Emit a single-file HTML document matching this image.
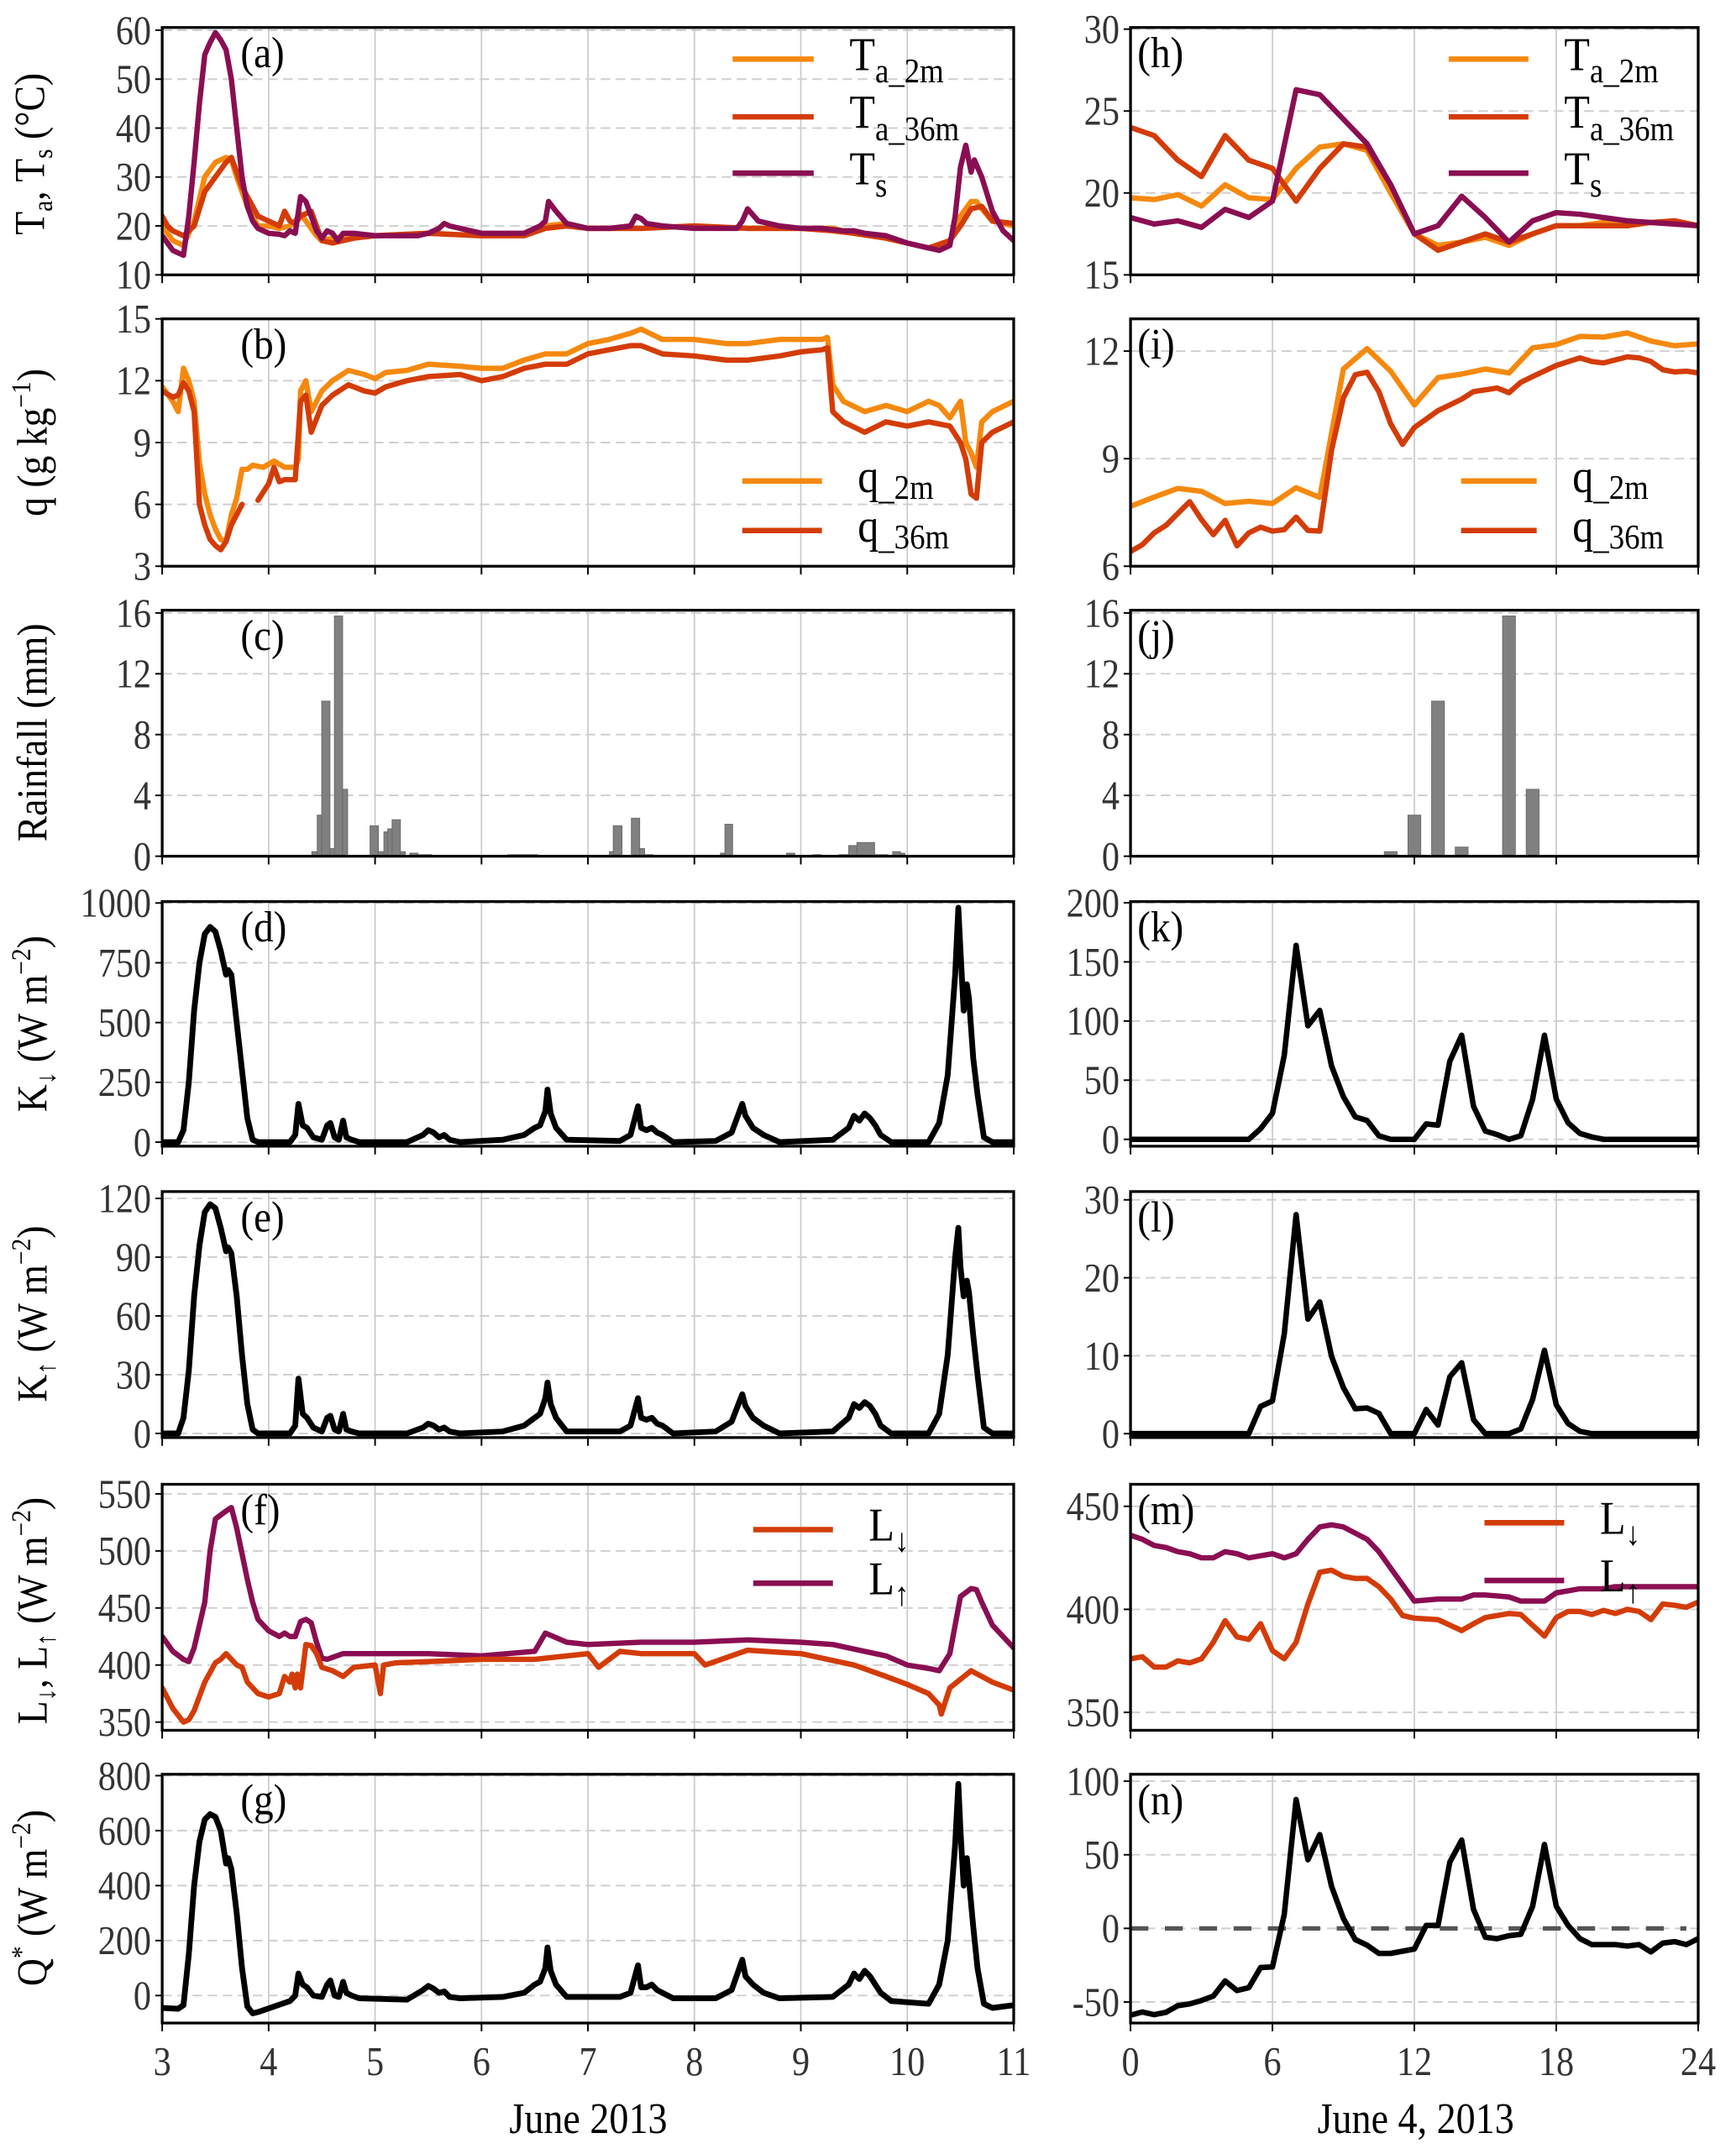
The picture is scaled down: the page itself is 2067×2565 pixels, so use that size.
<!DOCTYPE html>
<html><head><meta charset="utf-8">
<style>
html,body{margin:0;padding:0;background:#fff;}
svg{display:block;}
text{font-family:"Liberation Serif","DejaVu Serif",serif;}
</style></head>
<body>
<svg id="fig" xmlns="http://www.w3.org/2000/svg" width="2067" height="2565" viewBox="0 0 1263 1567.3"></svg>
<script>
// ---------- DATA ----------
const leftXTicks=[3,4,5,6,7,8,9,10,11];
const rightXTicks=[0,6,12,18,24];
const aTicks=[10,20,30,40,50,60];
const bTicks=[3,6,9,12,15];
const cTicks=[0,4,8,12,16];
const dTicks=[0,250,500,750,1000];
const eTicks=[0,30,60,90,120];
const fTicks=[350,400,450,500,550];
const gTicks=[0,200,400,600,800];
const hTicks=[15,20,25,30];
const iTicks=[6,9,12];
const kTicks=[0,50,100,150,200];
const lTicks=[0,10,20,30];
const mTicks=[350,400,450];
const nTicks=[-50,0,50,100];

// (a)
const aTsT=[3.0,3.05,3.1,3.15,3.2,3.25,3.3,3.35,3.4,3.45,3.5,3.55,3.6,3.65,3.7,3.75,3.8,3.85,3.9,4.0,4.1,4.15,4.2,4.25,4.3,4.35,4.4,4.45,4.5,4.55,4.6,4.65,4.7,4.8,5.0,5.2,5.4,5.5,5.6,5.65,5.7,5.8,6.0,6.2,6.4,6.5,6.55,6.6,6.63,6.7,6.8,7.0,7.2,7.4,7.45,7.5,7.55,7.7,8.0,8.2,8.4,8.45,8.5,8.6,8.8,9.0,9.2,9.4,9.5,9.6,9.8,10.0,10.2,10.3,10.4,10.45,10.5,10.55,10.6,10.63,10.7,10.8,10.9,11.0];
const aTs=[18,16.5,15,14.5,14,22,33,45,55,57.5,59.5,58,56,50,40,30,24,21,19.5,18.5,18.3,18,19,18.5,26,25,22,19,17.5,19,18.5,17,18.5,18.5,18,18,18,18.5,19.5,20.5,20,19.5,18.5,18.5,18.5,19.5,20,21,25,23,20.5,19.5,19.5,20,22,21.5,20.5,20,19.5,19.5,19.5,21,23.5,21,20,19.5,19.5,19,19,18.5,18,16.5,15.5,15,16,22,32,36.5,31,33.5,30,23,19,17];
const aTa2T=[3,3.1,3.2,3.3,3.4,3.5,3.6,3.65,3.7,3.8,3.9,4.0,4.1,4.2,4.25,4.3,4.35,4.45,4.5,4.6,4.8,5,5.5,6,6.4,6.6,6.8,7,7.5,8,8.5,9,9.3,9.5,9.8,10,10.2,10.3,10.4,10.5,10.6,10.65,10.7,10.8,11];
const aTa2=[20,17,16,21,30,33,34,33.5,30,24,20,20,19.5,20,21,22.5,21,18,17,17.5,18,18,18.5,18,18.5,20,20.5,19.5,19.5,20,19.5,19.5,19.5,18.5,17.5,16.5,15.5,15.5,17,22,25,25,23.5,21,20];
const aTa36T=[3,3.05,3.1,3.2,3.3,3.4,3.5,3.6,3.65,3.7,3.75,3.8,3.9,4.0,4.1,4.15,4.2,4.25,4.3,4.4,4.45,4.5,4.6,4.8,5,5.5,6,6.4,6.6,6.8,7,7.5,8,8.5,9,9.3,9.5,9.8,10,10.2,10.4,10.5,10.6,10.7,10.8,11];
const aTa36=[22,20,19,18,20,27,30,33,34,31,28,26,22,21,20,23,21,20.5,22,23,20,17,16.5,17.5,18,18.5,18,18,19.5,20,19.5,19.5,20,19.5,19.5,19,18.5,17.5,16.5,15.5,17,20,23.5,24,21,20.5];
// (b)
const bQ2T=[3,3.1,3.15,3.2,3.25,3.3,3.35,3.4,3.45,3.5,3.55,3.6,3.65,3.7,3.75,3.8,3.85,3.95,4.05,4.15,4.25,4.28,4.3,4.35,4.4,4.5,4.6,4.75,4.9,5,5.1,5.3,5.5,5.8,6,6.2,6.4,6.6,6.8,7,7.2,7.4,7.5,7.7,8,8.3,8.5,8.8,9,9.2,9.25,9.3,9.4,9.6,9.8,10,10.2,10.3,10.4,10.5,10.55,10.6,10.65,10.7,10.8,11];
const bQ2=[11.7,11,10.5,12.6,12,11,8,6.5,5.5,4.8,4.3,4.2,5.5,6.3,7.7,7.7,7.9,7.8,8.1,7.8,7.8,8.2,11.5,12,10.5,11.5,12,12.5,12.3,12.1,12.4,12.5,12.8,12.7,12.6,12.6,13,13.3,13.3,13.8,14,14.3,14.5,14,14,13.8,13.8,14,14,14,14.1,11.8,11,10.5,10.8,10.5,11,10.8,10.2,11,9,8.5,7.8,10,10.5,11];
const bQ36T=[3,3.1,3.15,3.2,3.25,3.3,3.35,3.4,3.45,3.5,3.55,3.6,3.65,3.7,3.75,3.83,3.9,4.0,4.05,4.1,4.15,4.25,4.3,4.35,4.4,4.5,4.6,4.75,4.9,5,5.1,5.3,5.5,5.8,6,6.2,6.4,6.6,6.8,7,7.2,7.4,7.5,7.7,8,8.3,8.5,8.8,9,9.2,9.25,9.3,9.4,9.6,9.8,10,10.2,10.4,10.5,10.55,10.6,10.65,10.7,10.8,11];
const bQ36=[11.5,11.2,11.3,11.9,11.5,10.5,6,5,4.3,4,3.8,4.2,5.0,5.5,6,null,6.2,7,7.8,7.1,7.2,7.2,11,11.3,9.5,10.8,11.3,11.8,11.5,11.4,11.7,12,12.2,12.3,12.0,12.2,12.6,12.8,12.8,13.3,13.5,13.7,13.7,13.3,13.2,13,13,13.2,13.4,13.5,13.6,10.5,10,9.5,10,9.8,10,9.8,9,8.2,6.5,6.3,9,9.5,10];
// (c) rainfall bins
const cRainStart=[4.406,4.457,4.499,4.576,4.618,4.695,4.953,5.031,5.083,5.119,5.16,5.238,5.326,5.403,6.245,7.202,7.238,7.408,7.486,7.532,8.245,8.287,8.866,9.114,9.357,9.45,9.527,9.693,9.863,9.935];
const cRainEnd=[4.457,4.499,4.576,4.618,4.695,4.742,5.031,5.083,5.119,5.16,5.238,5.284,5.403,5.532,6.525,7.238,7.32,7.486,7.532,7.61,8.287,8.359,8.943,9.191,9.45,9.527,9.693,9.822,9.935,9.977];
const cRain=[0.3,2.7,10.2,0.5,15.8,4.4,2.0,0.3,1.6,1.8,2.4,0.3,0.2,0.1,0.1,0.3,2.0,2.5,0.5,0.1,0.2,2.1,0.2,0.1,0.1,0.7,0.9,0.1,0.3,0.2];
// (d),(e),(g) shared times
const kT=[3,3.15,3.2,3.25,3.3,3.35,3.4,3.45,3.5,3.55,3.6,3.62,3.65,3.7,3.75,3.8,3.85,3.9,4.2,4.25,4.28,4.32,4.36,4.42,4.5,4.55,4.58,4.62,4.66,4.7,4.73,4.78,4.85,5.3,5.45,5.5,5.55,5.6,5.65,5.7,5.8,6.2,6.4,6.5,6.55,6.6,6.62,6.65,6.7,6.8,7.3,7.4,7.47,7.5,7.55,7.6,7.65,7.7,7.8,8.2,8.35,8.45,8.48,8.55,8.65,8.8,9.3,9.45,9.5,9.55,9.6,9.65,9.7,9.75,9.85,10.2,10.3,10.38,10.45,10.48,10.5,10.53,10.56,10.58,10.62,10.66,10.72,10.8,11];
const dKdown=[0,0,50,250,550,750,870,900,880,800,700,720,700,500,300,100,10,0,0,30,160,70,60,20,10,70,80,20,10,90,20,10,0,0,30,50,40,20,30,10,0,10,30,60,70,130,220,120,60,10,5,30,150,60,50,60,40,30,0,5,40,160,110,60,30,0,10,60,110,90,120,100,70,30,0,0,80,280,700,980,800,550,660,600,350,200,20,0,0];
const eKup=[0,0,8,32,70,96,113,117,115,105,93,95,92,70,40,15,2,0,0,4,28,10,8,3,1,8,9,2,1,10,2,1,0,0,3,5,4,2,3,1,0,1,4,8,10,18,26,15,8,1,1,4,18,8,7,8,5,4,0,1,6,20,14,8,4,0,1,8,15,13,16,14,10,4,0,0,10,40,90,105,85,70,78,72,50,30,3,0,0];
const gQstar=[-45,-48,-35,150,400,560,640,660,650,600,480,500,460,300,100,-40,-65,-60,-20,0,80,40,30,0,-5,40,55,0,-5,50,10,0,-10,-15,20,35,25,10,15,-5,-10,-5,10,40,50,100,175,90,40,-5,-5,10,110,30,30,40,20,10,-10,-10,20,130,70,40,10,-10,-5,40,80,60,90,70,40,10,-20,-30,40,200,550,770,600,400,500,420,250,100,-30,-45,-35];
// (f)
const fLupT=[3,3.1,3.2,3.25,3.3,3.4,3.45,3.5,3.6,3.65,3.7,3.8,3.85,3.9,4.0,4.1,4.15,4.2,4.25,4.3,4.35,4.4,4.45,4.5,4.55,4.7,5,5.5,6,6.5,6.6,6.8,7,7.5,8,8.5,9,9.3,9.5,9.8,10,10.2,10.3,10.4,10.5,10.6,10.65,10.7,10.8,11];
const fLup=[425,412,405,403,415,455,500,528,535,538,520,475,455,440,430,425,428,425,425,438,440,437,420,406,405,410,410,410,408,412,428,420,418,420,420,422,420,418,414,408,400,397,395,410,460,467,466,455,435,415];
const fLdnT=[3,3.1,3.2,3.25,3.3,3.4,3.5,3.55,3.6,3.7,3.75,3.8,3.9,4.0,4.1,4.15,4.2,4.22,4.25,4.27,4.3,4.35,4.4,4.45,4.5,4.6,4.7,4.8,5.0,5.05,5.08,5.2,5.5,6,6.5,7,7.1,7.3,7.5,8,8.1,8.5,9,9.5,9.8,10,10.2,10.3,10.32,10.4,10.6,10.8,11];
const fLdn=[380,362,350,352,360,385,402,405,410,400,398,385,375,372,375,390,385,392,380,392,380,418,417,410,398,395,390,398,400,375,400,402,403,405,405,410,398,412,410,410,400,413,410,400,390,383,375,365,357,380,395,385,378];
// right panels
const hT=[0,1,2,3,4,5,6,7,8,9,10,11,12,13,14,15,16,17,18,19,20,21,22,23,24];
const hTa2=[19.7,19.6,19.9,19.2,20.5,19.7,19.6,21.5,22.8,23,22.6,20,17.5,16.8,17,17.3,16.8,17.5,18,18,18.2,18.2,18.2,18.1,18];
const hTa36=[24,23.5,22,21,23.5,22,21.5,19.5,21.5,23,22.8,20.5,17.5,16.5,17,17.5,17,17.5,18,18,18,18,18.2,18.3,18];
const hTs=[18.5,18.1,18.3,17.9,19,18.5,19.5,26.3,26,24.5,23,20.5,17.5,18,19.8,18.5,17,18.3,18.8,18.7,18.5,18.3,18.2,18.1,18];
const iQ2T=[0,1,2,3,4,5,6,7,8,9,10,11,12,13,14,15,16,17,18,19,20,21,22,23,24];
const iQ2=[7.67,7.93,8.17,8.09,7.75,7.81,7.75,8.19,7.92,11.5,12.07,11.44,10.5,11.26,11.36,11.5,11.39,12.09,12.18,12.41,12.39,12.51,12.28,12.15,12.2];
const iQ36T=[0,0.5,1,1.5,2.5,3,3.5,4,4.5,5,5.5,6,6.5,7,7.5,8,8.5,9,9.5,10,10.5,11,11.5,12,13,14,14.5,15.5,16,16.5,17,18,19,19.5,20,21,21.5,22,22.5,23,23.5,24];
const iQ36=[6.41,6.6,6.93,7.14,7.8,7.3,6.88,7.28,6.57,6.93,7.09,6.98,7.02,7.37,7.0,6.98,9.24,10.7,11.34,11.41,10.87,9.97,9.4,9.87,10.34,10.66,10.87,10.97,10.84,11.13,11.29,11.6,11.81,11.71,11.67,11.84,11.81,11.71,11.48,11.42,11.44,11.39];
const jRainHour=[11,12,13,14,16,17];
const jRain=[0.3,2.7,10.2,0.6,15.8,4.4];
const kHT=[0,5,5.5,6,6.5,7,7.5,8,8.5,9,9.5,10,10.5,11,12,12.5,13,13.5,14,14.5,15,15.5,16,16.5,17,17.5,18,18.5,19,19.5,20,24];
const kKdown=[0,0,9,22,71,164,96,109,62,36,19,16,3,0,0,13,12,66,88,28,7,4,0,3,34,88,34,14,5,2,0,0];
const lHT=[0,5,5.5,6,6.5,7,7.5,8,8.5,9,9.5,10,10.5,11,12,12.5,13,13.5,14,14.5,15,16,16.5,17,17.5,18,18.5,19,19.5,24];
const lKup=[0,0,3.5,4.2,12.8,28.1,14.7,16.9,9.9,5.9,3.2,3.3,2.6,0,0,3.1,1.1,7.3,9.1,1.8,0,0,0.6,4.4,10.7,3.7,1.3,0.3,0,0];
const mT=[0,0.5,1,1.5,2,2.5,3,3.5,4,4.5,5,5.5,6,6.5,7,7.5,8,8.5,9,9.5,10,10.5,11,11.5,12,13,14,14.5,15,16,16.5,17.5,18,18.5,19,19.5,20,20.5,21,21.5,22,22.5,23,23.5,24];
const mLdn=[376,377,372,372,375,374,376,384,394.5,386.6,385.4,393,380,376,384,402.6,418,419,416,415,415,411,405,397,395.7,395,389.7,393,396,398,397.5,387,396,399,399,397.5,399.5,398,400,399,395,402.6,402,401,403.5];
const mLup=[436,434,431,430,428,427,425,425,428,427,425,426,427,425,427,434,440,441,440,437,434,428,420,412,404,405,405,407,407,406,404,404,408,409,410,410,410,411,411,411,411,411,411,411,411];
const nT=[0,0.5,1,1.5,2,2.5,3,3.5,4,4.5,5,5.5,6,6.5,7,7.5,8,8.5,9,9.5,10,10.5,11,11.5,12,12.5,13,13.5,14,14.5,15,15.5,16,16.5,17,17.5,18,18.5,19,19.5,20,20.5,21,21.5,22,22.5,23,23.5,24];
const nQstar=[-59,-56.8,-58.6,-57,-52.5,-51.3,-49,-46,-35.7,-42.2,-40.3,-26.6,-26.2,9.5,87.5,46.6,63.7,28.5,6.7,-7.6,-11.4,-17,-17,-15.5,-14,2,2,45,60,13,-6,-7,-5,-4,15,57,15,2,-7,-11,-11,-11,-12,-11,-16,-10,-9,-11,-7];

// ---------- DRAWING ----------
const NS='http://www.w3.org/2000/svg';
const svg=document.getElementById('fig');
const C_OR='#f5890f', C_RD='#d33c08', C_PU='#8a0e52';
const LW=3.9;
function el(tag,attrs,parent){const e=document.createElementNS(NS,tag);for(const k in attrs)e.setAttribute(k,attrs[k]);(parent||svg).appendChild(e);return e;}

const L={x0:118,x1:737.5,xmin:3,xmax:11};
const R={x0:822.5,x1:1235.5,xmin:0,xmax:24};
const rows=[[20,200],[232,412],[444,623],[656,834],[867,1046],[1080,1259],[1291,1472]];

function makePanel(id,side,row,ymin,ymax,yticks,xticks,showX){
  const s=side==='L'?L:R;
  const p={id:id,x0:s.x0,x1:s.x1,xmin:s.xmin,xmax:s.xmax,top:rows[row][0],bot:rows[row][1],ymin:ymin,ymax:ymax};
  p.sx=v=>p.x0+(v-p.xmin)/(p.xmax-p.xmin)*(p.x1-p.x0);
  p.sy=v=>p.bot-(v-p.ymin)/(p.ymax-p.ymin)*(p.bot-p.top);
  const g=el('g',{});
  
  
  p.g=g;
  const cp=el('clipPath',{id:'clip-'+id},g);
  el('rect',{x:p.x0,y:p.top,width:p.x1-p.x0,height:p.bot-p.top},cp);
  xticks.forEach(t=>{
    if(t===p.xmin||t===p.xmax)return;
    const l=el('line',{x1:p.sx(t),x2:p.sx(t),y1:p.top,y2:p.bot,stroke:'#c8c8c8','stroke-width':1},g);
    
    
  });
  yticks.forEach(t=>{
    const y=p.sy(t);
    const l=el('line',{x1:p.x0,x2:p.x1,y1:y,y2:y,stroke:'#cfcfcf','stroke-width':1.2,'stroke-dasharray':'7,4'},g);
    
    
    const tk=el('line',{x1:p.x0-5,x2:p.x0,y1:y,y2:y,stroke:'#000','stroke-width':1.2},g);
    
    
    const tx=el('text',{x:0,y:0,'text-anchor':'end','font-size':30,fill:'#333',transform:'translate('+(p.x0-8)+','+(y+10)+') scale(0.86,1)'},g);
    tx.textContent=String(t);
    
    
  });
  xticks.forEach(t=>{
    const x=p.sx(t);
    const tk=el('line',{x1:x,x2:x,y1:p.bot,y2:p.bot+6,stroke:'#000','stroke-width':1.2},g);
    
    
    if(showX){
      const tx=el('text',{x:0,y:0,'text-anchor':'middle','font-size':30,fill:'#333',transform:'translate('+x+','+(p.bot+38)+') scale(0.86,1)'},g);
      tx.textContent=String(t);
      
      
    }
  });
  p.data=el('g',{'clip-path':'url(#clip-'+id+')'},g);
  return p;
}
function finishPanel(p,letter){
  const r=el('rect',{x:p.x0,y:p.top,width:p.x1-p.x0,height:p.bot-p.top,fill:'none',stroke:'#000','stroke-width':2},p.g);
  
  
  const lx=p.id<'h'?p.x0+57:p.x0+5;
  const t=el('text',{x:0,y:0,'font-size':32,fill:'#000',transform:'translate('+lx+','+(p.top+29)+') scale(0.9,1)'},p.g);
  t.textContent='('+letter+')';
  
  
}
function drawLine(p,ts,vs,color,w,name){
  let d='',pen=false;
  const n=Math.min(ts.length,vs.length);
  for(let i=0;i<n;i++){
    if(vs[i]===null){pen=false;continue;}
    d+=(pen?'L':'M')+p.sx(ts[i]).toFixed(2)+','+p.sy(vs[i]).toFixed(2);
    pen=true;
  }
  const path=el('path',{d:d,fill:'none',stroke:color,'stroke-width':w,'stroke-linejoin':'round','stroke-linecap':'round'},p.data);
  
  
}
function drawBars(p,st,en,vs,name){
  const n=Math.min(st.length,en.length,vs.length);
  for(let i=0;i<n;i++){
    const x=p.sx(st[i]),x2=p.sx(en[i]),y=p.sy(vs[i]);
    const r=el('rect',{x:x,y:y,width:x2-x,height:p.sy(0)-y,fill:'#808080',stroke:'#6a6a6a','stroke-width':0.6},p.data);
    
    
  }
}
function legendEntry(p,x1,x2,y,color,main,sub,subSize,subDy){
  const l=el('line',{x1:x1,x2:x2,y1:y,y2:y,stroke:color,'stroke-width':4},p.g);
  
  
  const t=el('text',{x:0,y:0,'font-size':34,fill:'#000',transform:'translate('+(x2+26)+','+(y+8)+') scale(0.9,1)'},p.g);
  
  
  const a=el('tspan',{},t);a.textContent=main;
  const b=el('tspan',{'font-size':subSize,dy:subDy},t);b.textContent=sub;
}
function ylabel(cx,cy,parts){
  const t=el('text',{x:0,y:0,'text-anchor':'middle','font-size':31,fill:'#000',transform:'translate('+cx+','+cy+') rotate(-90) scale(0.9,1)'});
  
  
  parts.forEach(pt=>{const s=el('tspan',pt[1]?{'font-size':pt[1],dy:pt[2]}:{},t);s.textContent=pt[0];});
}

let p=makePanel('a','L',0,10,60.56,aTicks,leftXTicks,false);
drawLine(p,aTa2T,aTa2,C_OR,LW,'ta-2m-line');
drawLine(p,aTa36T,aTa36,C_RD,LW,'ta-36m-line');
drawLine(p,aTsT,aTs,C_PU,LW,'ts-line');
finishPanel(p,'a');
legendEntry(p,533,592,43,C_OR,'T','a_2m',25,9);
legendEntry(p,533,592,85,C_RD,'T','a_36m',25,9);
legendEntry(p,533,592,126,C_PU,'T','s',25,9);
p=makePanel('b','L',1,3,15,bTicks,leftXTicks,false);
drawLine(p,bQ2T,bQ2,C_OR,LW,'q-2m-line');
drawLine(p,bQ36T,bQ36,C_RD,LW,'q-36m-line');
finishPanel(p,'b');
legendEntry(p,540,598,350,C_OR,'q','_2m',25,5);
legendEntry(p,540,598,386,C_RD,'q','_36m',25,5);
p=makePanel('c','L',2,0,16.18,cTicks,leftXTicks,false);
drawBars(p,cRainStart,cRainEnd,cRain,'rain-bar');
finishPanel(p,'c');
p=makePanel('d','L',3,-17,1006,dTicks,leftXTicks,false);
drawLine(p,kT,dKdown,'#000',4.2,'k-down-line');
finishPanel(p,'d');
p=makePanel('e','L',4,-2.1,123.5,eTicks,leftXTicks,false);
drawLine(p,kT,eKup,'#000',4.2,'k-up-line');
finishPanel(p,'e');
p=makePanel('f','L',5,342.8,558.4,fTicks,leftXTicks,false);
drawLine(p,fLupT,fLup,C_PU,LW,'l-up-line');
drawLine(p,fLdnT,fLdn,C_RD,LW,'l-down-line');
finishPanel(p,'f');
legendEntry(p,548,606,1113,C_RD,'L','↓',24,8);
legendEntry(p,548,606,1152,C_PU,'L','↑',24,8);
p=makePanel('g','L',6,-100,805,gTicks,leftXTicks,true);
drawLine(p,kT,gQstar,'#000',4.2,'q-star-line');
finishPanel(p,'g');

p=makePanel('h','R',0,15,30.1,hTicks,rightXTicks,false);
drawLine(p,hT,hTa2,C_OR,LW,'ta-2m-line');
drawLine(p,hT,hTa36,C_RD,LW,'ta-36m-line');
drawLine(p,hT,hTs,C_PU,LW,'ts-line');
finishPanel(p,'h');
legendEntry(p,1054,1112,43,C_OR,'T','a_2m',25,9);
legendEntry(p,1054,1112,85,C_RD,'T','a_36m',25,9);
legendEntry(p,1054,1112,126,C_PU,'T','s',25,9);
p=makePanel('i','R',1,6,12.9,iTicks,rightXTicks,false);
drawLine(p,iQ2T,iQ2,C_OR,LW,'q-2m-line');
drawLine(p,iQ36T,iQ36,C_RD,LW,'q-36m-line');
finishPanel(p,'i');
legendEntry(p,1063,1118,350,C_OR,'q','_2m',25,5);
legendEntry(p,1063,1118,386,C_RD,'q','_36m',25,5);
p=makePanel('j','R',2,0,16.18,cTicks,rightXTicks,false);
drawBars(p,jRainHour.map(h=>h-0.27),jRainHour.map(h=>h+0.27),jRain,'rain-bar');
finishPanel(p,'j');
p=makePanel('k','R',3,-5.8,201,kTicks,rightXTicks,false);
drawLine(p,kHT,kKdown,'#000',4,'k-down-line');
finishPanel(p,'k');
p=makePanel('l','R',4,-0.5,31.06,lTicks,rightXTicks,false);
drawLine(p,lHT,lKup,'#000',4,'k-up-line');
finishPanel(p,'l');
p=makePanel('m','R',5,341.3,460.7,mTicks,rightXTicks,false);
drawLine(p,mT,mLup,C_PU,LW,'l-up-line');
drawLine(p,mT,mLdn,C_RD,LW,'l-down-line');
finishPanel(p,'m');
legendEntry(p,1080,1138,1108,C_RD,'L','↓',24,8);
legendEntry(p,1080,1138,1150,C_PU,'L','↑',24,8);
p=makePanel('n','R',6,-64.3,104.7,nTicks,rightXTicks,true);
const zl=el('line',{x1:p.sx(0),x2:p.sx(23.5),y1:p.sy(0),y2:p.sy(0),stroke:'#555','stroke-width':3.2,'stroke-dasharray':'13,12'},p.data);


drawLine(p,nT,nQstar,'#000',4,'q-star-line');
finishPanel(p,'n');

ylabel(32,112,[['T'],['a',20,6],[', T',31,-6],['s',20,6],[' (°C)',31,-6]]);
ylabel(34,322,[['q (g kg'],['−1',20,-12],[')',31,12]]);
ylabel(34,533,[['Rainfall (mm)']]);
ylabel(34,745,[['K'],['↓',20,6],[' (W m',31,-6],['−2',20,-12],[')',31,12]]);
ylabel(34,956,[['K'],['↑',20,6],[' (W m',31,-6],['−2',20,-12],[')',31,12]]);
ylabel(34,1172,[['L'],['↓',20,6],[', L',31,-6],['↑',20,6],['  (W m',31,-6],['−2',20,-12],[')',31,12]]);
ylabel(34,1381,[['Q'],['*',20,-12],[' (W m',31,12],['−2',20,-12],[')',31,12]]);

const xl1=el('text',{x:0,y:0,'text-anchor':'middle','font-size':32,fill:'#000',transform:'translate(428,1552) scale(0.88,1)'});
xl1.textContent='June 2013';


const xl2=el('text',{x:0,y:0,'text-anchor':'middle','font-size':32,fill:'#000',transform:'translate(1030,1552) scale(0.88,1)'});
xl2.textContent='June 4, 2013';


</script>
</body></html>
